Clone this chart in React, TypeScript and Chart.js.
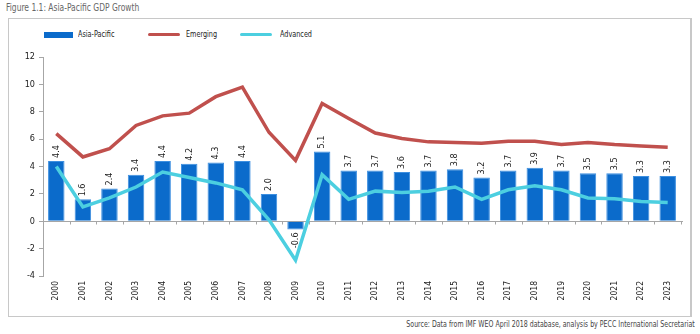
import React, { useEffect, useRef } from "react";
import { Chart, registerables } from "chart.js";

Chart.register(...registerables);

const years = ["2000","2001","2002","2003","2004","2005","2006","2007","2008","2009","2010","2011","2012","2013","2014","2015","2016","2017","2018","2019","2020","2021","2022","2023"];
const asiaPacific = [4.4,1.6,2.4,3.4,4.4,4.2,4.3,4.4,2.0,-0.6,5.1,3.7,3.7,3.6,3.7,3.8,3.2,3.7,3.9,3.7,3.5,3.5,3.3,3.3];
const emerging = [6.4,4.7,5.3,7.0,7.7,7.9,9.1,9.8,6.5,4.45,8.6,7.5,6.45,6.05,5.8,5.75,5.7,5.85,5.85,5.6,5.75,5.6,5.5,5.4];
const advanced = [4.0,1.05,1.7,2.5,3.6,3.2,2.8,2.3,0.1,-2.85,3.4,1.6,2.2,2.1,2.2,2.5,1.6,2.3,2.6,2.3,1.7,1.65,1.45,1.37];

const FONT = "'DejaVu Sans Condensed', 'Liberation Sans', sans-serif";
const BLUE = "#0b6bcb";
const RED = "#c0504d";
const CYAN = "#4ccfe0";

const labelPlugin = {
  id: "barLabels",
  afterDatasetsDraw(chart: any) {
    const ctx = chart.ctx;
    const meta = chart.getDatasetMeta(0);
    ctx.save();
    ctx.font = `9px ${FONT}`;
    ctx.fillStyle = "#222";
    ctx.textBaseline = "middle";
    meta.data.forEach((bar: any, i: number) => {
      const v = asiaPacific[i];
      const txt = v.toFixed(1);
      ctx.save();
      if (v >= 0) {
        ctx.translate(bar.x, bar.y - 3);
        ctx.rotate(-Math.PI / 2);
        ctx.textAlign = "left";
      } else {
        ctx.translate(bar.x, bar.y + 3);
        ctx.rotate(-Math.PI / 2);
        ctx.textAlign = "right";
      }
      ctx.fillText(txt, 0, 0);
      ctx.restore();
    });
    ctx.restore();
  },
  beforeDatasetsDraw(chart: any) {
    const ctx = chart.ctx;
    const { left, right } = chart.chartArea;
    const y0 = chart.scales.y.getPixelForValue(0);
    ctx.save();
    ctx.strokeStyle = "#a6a6a6";
    ctx.lineWidth = 1;
    ctx.beginPath();
    ctx.moveTo(left, Math.round(y0) + 0.5);
    ctx.lineTo(right + 2, Math.round(y0) + 0.5);
    const n = years.length;
    const w = (right - left) / n;
    for (let i = 0; i <= n; i++) {
      const x = Math.round(left + i * w) + 0.5;
      ctx.moveTo(x, Math.round(y0) + 0.5);
      ctx.lineTo(x, Math.round(y0) + 3.5);
    }
    ctx.stroke();
    ctx.restore();
  },
};

export default function App() {
  const ref = useRef<HTMLCanvasElement>(null);
  useEffect(() => {
    document.body.style.margin = "0";
    const chart = new Chart(ref.current!, {
      type: "bar",
      data: {
        labels: years,
        datasets: [
          { type: "bar", label: "Asia-Pacific", data: asiaPacific, backgroundColor: BLUE, borderColor: "#3d8fe0", borderWidth: 1, categoryPercentage: 1, barPercentage: 0.62, order: 3 },
          { type: "line", label: "Emerging", data: emerging, borderColor: RED, borderWidth: 3.5, pointRadius: 0, tension: 0, order: 1 },
          { type: "line", label: "Advanced", data: advanced, borderColor: CYAN, borderWidth: 3.5, pointRadius: 0, tension: 0, order: 2 },
        ] as any,
      },
      options: {
        animation: false,
        responsive: false,
        layout: { padding: { top: 38, right: 9, left: 0, bottom: 0 } },
        plugins: { legend: { display: false }, tooltip: { enabled: false } },
        scales: {
          x: {
            afterFit: (s: any) => { s.height = 39; },
            grid: { display: false, drawTicks: false },
            border: { display: false },
            ticks: { minRotation: 90, maxRotation: 90, autoSkip: false, color: "#222", font: { family: FONT, size: 8.5 }, padding: 5 },
          },
          y: {
            min: -4,
            max: 12,
            afterFit: (s: any) => { s.width = 33; },
            grid: { drawOnChartArea: false, tickLength: 4, color: "#a6a6a6" },
            border: { color: "#a6a6a6" },
            ticks: { stepSize: 2, color: "#222", font: { family: FONT, size: 9 }, padding: 4 },
          },
        },
      },
      plugins: [labelPlugin],
    });
    return () => chart.destroy();
  }, []);

  const legendText: React.CSSProperties = { position: "absolute", top: 29, fontFamily: FONT, fontSize: 9, color: "#222", transform: "scaleX(0.8)", transformOrigin: "left center", whiteSpace: "nowrap" };
  return (
    <div style={{ position: "relative", width: 700, height: 334, background: "#fff", overflow: "hidden" }}>
      <div style={{ position: "absolute", left: 6, top: 2, fontFamily: FONT, fontSize: 10, color: "#666", transform: "scaleX(0.84)", transformOrigin: "left center", whiteSpace: "nowrap" }}>Figure 1.1: Asia-Pacific GDP Growth</div>
      <div style={{ position: "absolute", left: 8, top: 18, width: 684, height: 299, border: "1px solid #c8c8c8", borderRight: "2px solid #c8c8c8", boxSizing: "border-box" }} />
      <div style={{ position: "absolute", left: 44, top: 32, width: 29, height: 6, background: BLUE }} />
      <div style={{ ...legendText, left: 78 }}>Asia-Pacific</div>
      <div style={{ position: "absolute", left: 148, top: 33, width: 32, height: 3, background: RED, borderRadius: 2 }} />
      <div style={{ ...legendText, left: 186 }}>Emerging</div>
      <div style={{ position: "absolute", left: 240, top: 33, width: 32, height: 3, background: CYAN, borderRadius: 2 }} />
      <div style={{ ...legendText, left: 280 }}>Advanced</div>
      <canvas ref={ref} width={680} height={296} style={{ position: "absolute", left: 10, top: 19 }} />
      <div style={{ position: "absolute", right: 5, top: 319, fontFamily: FONT, fontSize: 8.5, color: "#444", transform: "scaleX(0.82)", transformOrigin: "right center", whiteSpace: "nowrap" }}>Source: Data from IMF WEO April 2018 database, analysis by PECC International Secretariat</div>
    </div>
  );
}
